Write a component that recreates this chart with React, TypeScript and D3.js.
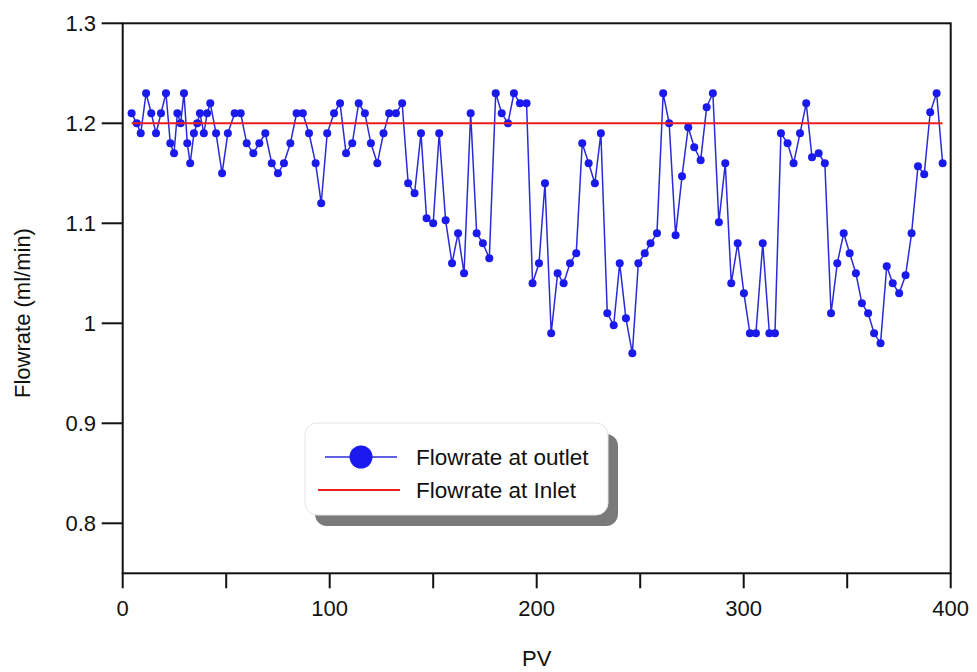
import React from "react";
import * as d3 from "d3";

// Pore volumes injected (PV) and measured outlet flowrate (ml/min)
const pv: number[] = [
  4.3, 6.8, 8.7, 11.3, 13.8, 16.1, 18.5, 20.9, 23.0, 24.8, 26.4, 28.0, 29.6, 31.2, 32.6, 34.4, 36.0, 37.3, 39.2, 40.8,
  42.3, 45.1, 48.0, 50.8, 54.1, 57.0, 59.9, 63.1, 66.0, 68.9, 72.0, 75.0, 77.9, 81.0, 84.0, 87.0, 90.0, 93.2, 95.9, 98.8,
  102.1, 105.0, 107.9, 110.9, 114.0, 117.0, 119.9, 123.0, 126.0, 128.7, 132.0, 135.0, 137.9, 141.0, 144.1, 146.8, 150.0, 152.9, 156.0, 159.1,
  162.0, 164.9, 168.1, 171.0, 174.0, 177.1, 180.2, 183.1, 186.1, 189.0, 191.9, 195.1, 198.0, 201.1, 204.0, 207.0, 210.1, 213.0, 216.1, 219.1,
  222.0, 225.1, 228.1, 231.0, 234.1, 237.2, 240.1, 243.1, 246.2, 249.1, 252.2, 255.0, 258.1, 261.1, 264.0, 267.1, 270.2, 273.2, 276.1, 279.2,
  282.1, 285.1, 288.0, 291.1, 294.0, 297.1, 300.1, 303.0, 305.9, 309.2, 312.4, 315.1, 318.0, 321.2, 324.1, 327.2, 330.2, 333.0, 336.2, 339.2,
  342.2, 345.2, 348.3, 351.2, 354.2, 357.1, 360.1, 363.0, 366.1, 369.1, 372.0, 375.1, 378.2, 381.1, 384.2, 387.2, 390.1, 393.2, 396.1,
];

const outletFlow: number[] = [
  1.21, 1.2, 1.19, 1.23, 1.21, 1.19, 1.21, 1.23, 1.18, 1.17, 1.21, 1.2, 1.23, 1.18, 1.16, 1.19, 1.2, 1.21, 1.19, 1.21,
  1.22, 1.19, 1.15, 1.19, 1.21, 1.21, 1.18, 1.17, 1.18, 1.19, 1.16, 1.15, 1.16, 1.18, 1.21, 1.21, 1.19, 1.16, 1.12, 1.19,
  1.21, 1.22, 1.17, 1.18, 1.22, 1.21, 1.18, 1.16, 1.19, 1.21, 1.21, 1.22, 1.14, 1.13, 1.19, 1.105, 1.1, 1.19, 1.103, 1.06,
  1.09, 1.05, 1.21, 1.09, 1.08, 1.065, 1.23, 1.21, 1.2, 1.23, 1.22, 1.22, 1.04, 1.06, 1.14, 0.99, 1.05, 1.04, 1.06, 1.07,
  1.18, 1.16, 1.14, 1.19, 1.01, 0.998, 1.06, 1.005, 0.97, 1.06, 1.07, 1.08, 1.09, 1.23, 1.2, 1.088, 1.147, 1.196, 1.176, 1.163,
  1.216, 1.23, 1.101, 1.16, 1.04, 1.08, 1.03, 0.99, 0.99, 1.08, 0.99, 0.99, 1.19, 1.18, 1.16, 1.19, 1.22, 1.166, 1.17, 1.16,
  1.01, 1.06, 1.09, 1.07, 1.05, 1.02, 1.01, 0.99, 0.98, 1.057, 1.04, 1.03, 1.048, 1.09, 1.157, 1.149, 1.211, 1.23, 1.16,
];

// Constant inlet flowrate over the same PV range
const inletPV: number[] = [4.3, 396.1];
const inletFlow: number[] = [1.2, 1.2];

const xTicks: number[] = [0, 50, 100, 150, 200, 250, 300, 350, 400];
const xLabels: number[] = [0, 100, 200, 300, 400];
const yTicks: number[] = [0.8, 0.9, 1.0, 1.1, 1.2, 1.3];

const seriesNames: string[] = ["Flowrate at outlet", "Flowrate at Inlet"];

const W = 977;
const H = 672;
const left = 122.7;
const right = 950.7;
const top = 23.3;
const bottom = 573.3;

const FONT = "'Liberation Sans', Arial, sans-serif";
const BLUE = "#1a1aee";
const LINE_BLUE = "#2a2ad8";
const RED = "#ee1c1c";
const FS = 22;

export default function App() {
  const x = d3.scaleLinear().domain([0, 400]).range([left, right]);
  const y = d3.scaleLinear().domain([0.75, 1.3]).range([bottom, top]);

  const outlet = pv.map((p, i) => [p, outletFlow[i]] as [number, number]);
  const inlet = inletPV.map((p, i) => [p, inletFlow[i]] as [number, number]);

  const line = d3
    .line<[number, number]>()
    .x((d) => x(d[0]))
    .y((d) => y(d[1]));

  const fmtY = (v: number) => (Math.abs(v - 1) < 1e-9 ? "1" : d3.format(".1f")(v));

  const lg = { x: 305, y: 423, w: 303, h: 92 };

  return (
    <div style={{ position: "absolute", left: 0, top: 0 }}>
      <svg width={W} height={H} style={{ display: "block", background: "#fff" }} fontFamily={FONT}>
        {/* outlet series */}
        <path d={line(outlet) || ""} fill="none" stroke={LINE_BLUE} strokeWidth={1.5} />
        {outlet.map((d, i) => (
          <circle key={i} cx={x(d[0])} cy={y(d[1])} r={4} fill={BLUE} />
        ))}
        {/* inlet series */}
        <path d={line(inlet) || ""} fill="none" stroke={RED} strokeWidth={2} />

        {/* frame */}
        <rect x={left} y={top} width={right - left} height={bottom - top} fill="none" stroke="#111" strokeWidth={2} />

        {/* x axis ticks */}
        {xTicks.map((t) => (
          <line key={t} x1={x(t)} x2={x(t)} y1={bottom} y2={bottom + 15} stroke="#111" strokeWidth={2} />
        ))}
        {xLabels.map((t) => (
          <text key={t} x={x(t)} y={616} fontSize={FS} textAnchor="middle" fill="#111">
            {t}
          </text>
        ))}
        <text x={(left + right) / 2} y={666} fontSize={FS} textAnchor="middle" fill="#111">
          PV
        </text>

        {/* y axis ticks */}
        {yTicks.map((t) => (
          <g key={t}>
            <line x1={left - 21} x2={left} y1={y(t)} y2={y(t)} stroke="#111" strokeWidth={2} />
            <text x={96} y={y(t) + 8} fontSize={FS} textAnchor="end" fill="#111">
              {fmtY(t)}
            </text>
          </g>
        ))}
        <text
          transform={`translate(30, 313) rotate(-90)`}
          fontSize={FS}
          textAnchor="middle"
          fill="#111"
        >
          Flowrate (ml/min)
        </text>

        {/* legend */}
        <rect x={lg.x + 10} y={lg.y + 11} width={lg.w} height={lg.h} rx={12} fill="#7a7a7a" />
        <rect x={lg.x} y={lg.y} width={lg.w} height={lg.h} rx={12} fill="#fff" stroke="#e4e4e4" strokeWidth={1} />
        <line x1={325} x2={397} y1={457} y2={457} stroke={LINE_BLUE} strokeWidth={1.5} />
        <circle cx={361} cy={457} r={11.5} fill={BLUE} />
        <text x={416} y={465} fontSize={22.5} fill="#111">
          {seriesNames[0]}
        </text>
        <line x1={318} x2={400} y1={490} y2={490} stroke={RED} strokeWidth={2} />
        <text x={416} y={498} fontSize={22.5} fill="#111">
          {seriesNames[1]}
        </text>
      </svg>
    </div>
  );
}
